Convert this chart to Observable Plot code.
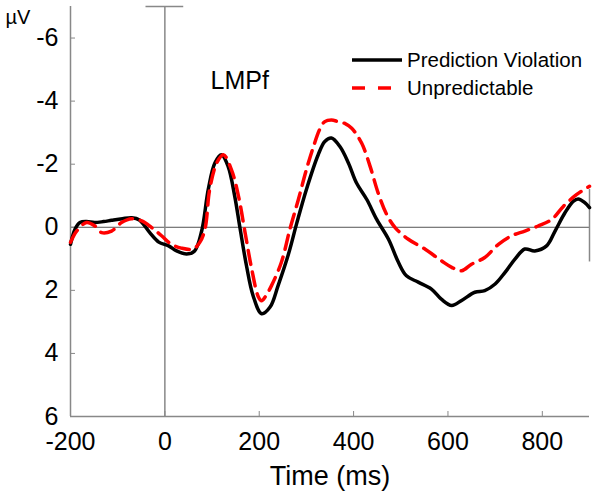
<!DOCTYPE html>
<html>
<head>
<meta charset="utf-8">
<script src="https://cdn.jsdelivr.net/npm/d3@7"></script>
<script src="https://cdn.jsdelivr.net/npm/@observablehq/plot@0.6"></script>
<style>
  html, body { margin: 0; padding: 0; background: #fff; }
  #chart { position: relative; width: 600px; height: 495px; }
</style>
</head>
<body>
<div id="chart"></div>
<script>
// Time points (ms) and amplitudes (µV)
const pvTime = [-200,-190,-180,-166,-149,-130,-113,-90,-70,-54,-32,-13,8,25,46,63,78,92,106,120,134,148,159,173,187,205,223,240,262,279,300,325,339,353,371,389,406,428,449,474,495,512,537,565,586,608,629,657,678,700,721,742,763,784,809,827,848,866,876,890,900];
const pvValue = [0.54,0.05,-0.15,-0.18,-0.15,-0.18,-0.22,-0.27,-0.3,-0.23,0.17,0.47,0.59,0.75,0.85,0.75,0.12,-1.2,-2.04,-2.3,-1.93,-0.99,0.0,1.22,2.17,2.74,2.53,1.85,0.85,-0.1,-1.2,-2.3,-2.72,-2.83,-2.56,-2.04,-1.41,-0.88,-0.25,0.38,1.11,1.54,1.74,1.96,2.28,2.48,2.32,2.06,2.01,1.8,1.43,1.01,0.69,0.75,0.59,0.12,-0.46,-0.83,-0.9,-0.78,-0.62];

const unTime = [-200,-187,-166,-148,-134,-113,-92,-70,-49,-28,-7,14,35,60,74,85,95,110,124,141,156,170,184,198,205,213,226,247,265,283,300,315,328,339,353,367,383,396,417,435,452,470,488,516,551,586,608,629,650,678,707,735,763,791,820,845,873,900];
const unValue = [0.48,0.12,-0.15,-0.04,0.17,0.12,-0.15,-0.27,-0.2,0.01,0.27,0.54,0.66,0.69,0.48,0.06,-1.2,-2.04,-2.3,-1.83,-0.99,0.17,1.32,2.2,2.33,2.2,1.85,1.11,0.06,-0.88,-1.83,-2.56,-3.1,-3.35,-3.4,-3.35,-3.28,-3.14,-2.67,-1.93,-1.09,-0.41,0.01,0.38,0.69,1.06,1.27,1.38,1.17,0.96,0.54,0.27,0.12,-0.04,-0.25,-0.67,-1.04,-1.3];

const xTicks = [-200, 0, 200, 400, 600, 800];
const yTicks = [-6, -4, -2, 0, 2, 4, 6];
const xDomain = [-200, 900];
const yDomain = [-7, 6];
const seriesNames = ["Prediction Violation", "Unpredictable"];
const capSpan = [-40, 40];        // horizontal cap at top of the onset line
const rightBar = [-1.2, 1.1];     // small vertical bar at right end

const pv = pvTime.map((t, i) => ({t, v: pvValue[i]}));
const un = unTime.map((t, i) => ({t, v: unValue[i]}));

const font = "'Liberation Sans', Arial, Helvetica, sans-serif";
const hyphen = d => String(d);

const plot = Plot.plot({
  width: 600,
  height: 495,
  marginLeft: 70,
  marginRight: 11,
  marginTop: 6,
  marginBottom: 79,
  style: {fontFamily: font, background: "white", color: "black", overflow: "visible"},
  x: {domain: xDomain},
  y: {domain: yDomain, reverse: true},
  marks: [
    Plot.ruleY([0], {stroke: "#555", strokeWidth: 1}),
    Plot.ruleX([0], {stroke: "#888", strokeWidth: 1.5}),
    Plot.ruleY([yDomain[0]], {x1: capSpan[0], x2: capSpan[1], stroke: "#888", strokeWidth: 1.5}),
    Plot.ruleX([xDomain[1]], {y1: rightBar[0], y2: rightBar[1], stroke: "#888", strokeWidth: 1.5}),
    Plot.ruleX([xDomain[0]], {stroke: "#888", strokeWidth: 1.5}),
    Plot.ruleY([yDomain[1]], {stroke: "#888", strokeWidth: 1.5}),
    Plot.axisY({ticks: yTicks, tickFormat: hyphen, tickSize: -5, tickPadding: 17, fontSize: 25, stroke: "#888", label: null}),
    Plot.axisX({ticks: xTicks, tickFormat: hyphen, tickSize: -5, tickPadding: 21, fontSize: 25, stroke: "#888", label: null}),
    Plot.line(pv, {x: "t", y: "v", stroke: "black", strokeWidth: 3.5, curve: "catmull-rom"}),
    Plot.line(un, {x: "t", y: "v", stroke: "#ff0000", strokeWidth: 3.5, strokeDasharray: "14,8", curve: "catmull-rom"}),
    Plot.text(["µV"], {frameAnchor: "top-left", dx: -65, dy: 3, fontSize: 20, fill: "black"}),
    Plot.text(["LMPf"], {frameAnchor: "top-left", dx: 140, dy: 65, fontSize: 25, fill: "black"}),
    Plot.text(["Time (ms)"], {frameAnchor: "bottom", dy: 68, fontSize: 27, fill: "black"})
  ]
});

document.getElementById("chart").appendChild(plot);

// Legend
const svg = d3.select(plot);
const leg = svg.append("g").attr("transform", "translate(352,60)");
const styles = [
  {stroke: "black", dash: null},
  {stroke: "#ff0000", dash: "13,13"}
];
seriesNames.forEach((name, i) => {
  const g = leg.append("g").attr("transform", `translate(0,${i * 28})`);
  g.append("line").attr("x1", 0).attr("x2", 50).attr("y1", 0).attr("y2", 0)
    .attr("stroke", styles[i].stroke).attr("stroke-width", 3.5)
    .attr("stroke-dasharray", styles[i].dash);
  g.append("text").attr("x", 55).attr("y", 0).attr("dy", "0.35em")
    .attr("text-anchor", "start")
    .attr("font-size", 20.5).attr("font-family", font).attr("fill", "black").text(name);
});
</script>
</body>
</html>
